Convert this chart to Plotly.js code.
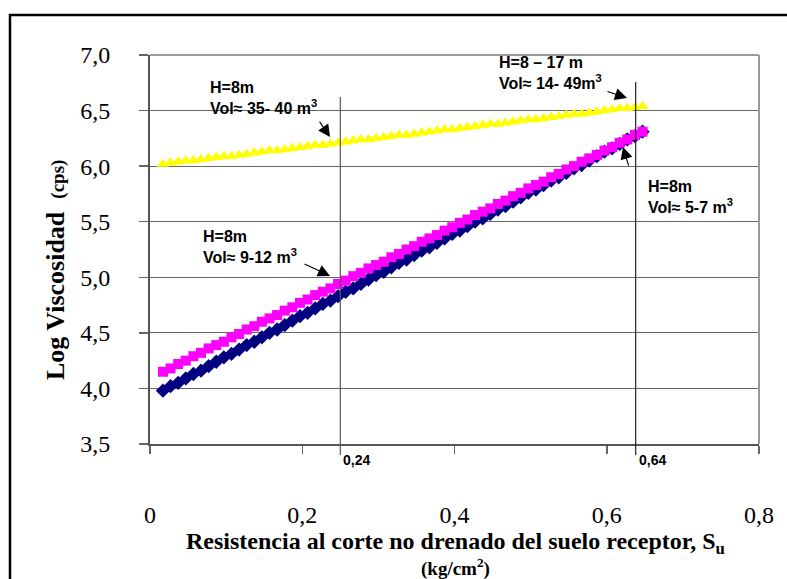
<!DOCTYPE html>
<html>
<head>
<meta charset="utf-8">
<script src="https://cdn.plot.ly/plotly-3.0.1.min.js"></script>
<style>html,body{margin:0;padding:0;background:#fff;}#chart{width:787px;height:579px;}</style>
</head>
<body>
<div id="chart"></div>
<script>
// Shear strength Su (kg/cm2)
const su = [0.017,0.027,0.037,0.047,0.057,0.067,0.077,0.087,0.097,0.107,
  0.117,0.127,0.137,0.147,0.157,0.167,0.177,0.187,0.197,0.207,
  0.217,0.227,0.237,0.247,0.257,0.267,0.277,0.287,0.297,0.307,
  0.317,0.327,0.337,0.347,0.357,0.367,0.377,0.387,0.397,0.407,
  0.417,0.427,0.437,0.447,0.457,0.467,0.477,0.487,0.497,0.507,
  0.517,0.527,0.537,0.547,0.557,0.567,0.577,0.587,0.597,0.607,
  0.617,0.627,0.637,0.647];
// Log viscosity, navy diamonds
const logViscNavy = [3.98,4.02,4.05,4.09,4.13,4.16,4.20,4.24,4.28,4.31,
  4.35,4.39,4.42,4.46,4.50,4.53,4.57,4.61,4.65,4.68,
  4.72,4.76,4.79,4.83,4.87,4.90,4.94,4.98,5.02,5.05,
  5.09,5.13,5.16,5.20,5.24,5.27,5.31,5.35,5.39,5.42,
  5.46,5.50,5.53,5.57,5.61,5.64,5.68,5.72,5.76,5.79,
  5.83,5.87,5.90,5.94,5.98,6.01,6.05,6.09,6.13,6.16,
  6.20,6.24,6.27,6.31];
// Log viscosity, magenta squares
const logViscMagenta = [4.15,4.18,4.22,4.25,4.29,4.32,4.36,4.39,4.42,4.46,
  4.49,4.53,4.56,4.60,4.63,4.66,4.70,4.73,4.77,4.80,
  4.84,4.87,4.90,4.94,4.97,5.01,5.04,5.08,5.11,5.14,
  5.18,5.21,5.25,5.28,5.32,5.35,5.38,5.42,5.45,5.49,
  5.52,5.56,5.59,5.62,5.66,5.69,5.73,5.76,5.80,5.83,
  5.86,5.90,5.93,5.97,6.00,6.04,6.07,6.10,6.14,6.17,
  6.21,6.24,6.28,6.31];
// Log viscosity, yellow triangles
const logViscYellow = [6.02,6.03,6.04,6.05,6.05,6.06,6.07,6.08,6.09,6.09,
  6.10,6.11,6.12,6.13,6.14,6.14,6.15,6.16,6.17,6.18,
  6.19,6.19,6.20,6.21,6.22,6.23,6.24,6.24,6.25,6.26,
  6.27,6.28,6.28,6.29,6.30,6.31,6.32,6.33,6.33,6.34,
  6.35,6.36,6.37,6.38,6.38,6.39,6.40,6.41,6.42,6.42,
  6.43,6.44,6.45,6.46,6.47,6.47,6.48,6.49,6.50,6.51,
  6.52,6.52,6.53,6.54];
const xTicks = [0, 0.2, 0.4, 0.6, 0.8];
const yTicks = [3.5, 4.0, 4.5, 5.0, 5.5, 6.0, 6.5, 7.0];
const refLines = [0.25, 0.638];
const refLabels = ['0,24', '0,64'];

const serif = '"Liberation Serif", "Times New Roman", serif';
const sans = '"Liberation Sans", Arial, sans-serif';

const traces = [
  {x: su, y: logViscNavy, mode: 'markers', type: 'scatter',
   marker: {symbol: 'diamond', size: 11, color: '#000080', line: {width: 0}}},
  {x: su, y: logViscMagenta, mode: 'markers', type: 'scatter',
   marker: {symbol: 'square', size: 10, color: '#FF00FF', line: {width: 0}}},
  {x: su, y: logViscYellow, mode: 'markers', type: 'scatter',
   marker: {symbol: 'triangle-up', size: 11, color: '#FFFF00', line: {width: 0}}}
];

const shapes = [
  // outer frame
  {type: 'rect', xref: 'paper', yref: 'paper', x0: -0.2299, x1: 2, y0: -2, y1: 1.1028,
   line: {color: '#000', width: 2.5}, fillcolor: 'rgba(0,0,0,0)', layer: 'above'},
  // gaps in grid behind text boxes
  {type: 'rect', xref: 'paper', yref: 'paper', x0: 0.0772, x1: 0.2906, y0: 0.835, y1: 0.885,
   line: {width: 0}, fillcolor: '#fff', layer: 'between'},
  {type: 'rect', xref: 'paper', yref: 'paper', x0: 0.0657, x1: 0.2611, y0: 0.55, y1: 0.60,
   line: {width: 0}, fillcolor: '#fff', layer: 'between'},
  {type: 'rect', xref: 'paper', yref: 'paper', x0: 0.7995, x1: 0.9606, y0: 0.835, y1: 0.885,
   line: {width: 0}, fillcolor: '#fff', layer: 'between'},
  // top & right frame of plot area
  {type: 'line', xref: 'paper', yref: 'paper', x0: 0, x1: 1, y0: 1, y1: 1,
   line: {color: '#999', width: 2}, layer: 'above'},
  {type: 'line', xref: 'paper', yref: 'paper', x0: 1, x1: 1, y0: 0, y1: 1,
   line: {color: '#999', width: 2}, layer: 'above'},
  // reference vertical lines
  {type: 'line', xref: 'x', yref: 'paper', x0: refLines[0], x1: refLines[0], y0: -0.028, y1: 0.892,
   line: {color: '#555', width: 1.2}, layer: 'above'},
  {type: 'line', xref: 'x', yref: 'paper', x0: refLines[1], x1: refLines[1], y0: -0.028, y1: 0.9306,
   line: {color: '#222', width: 1.2}, layer: 'above'}
];

const aFont = {family: sans, size: 16, color: '#000'};
const arrowBase = {text: ' ', showarrow: true, arrowhead: 2, arrowsize: 2.2, arrowwidth: 1.1,
  arrowcolor: '#000', standoff: 0, startstandoff: 0, xref: 'x', yref: 'y'};

const annotations = [
  {xref: 'paper', yref: 'paper', x: (208-150)/609, y: (444-98)/389, xanchor: 'left', yanchor: 'middle',
   align: 'left', showarrow: false, font: aFont,
   text: '<b>H=8m</b><br><b>Vol≈ 35- 40 m<sup>3</sup></b>'},
  {xref: 'paper', yref: 'paper', x: (201-150)/609, y: (444-247)/389, xanchor: 'left', yanchor: 'middle',
   align: 'left', showarrow: false, font: aFont,
   text: '<b>H=8m</b><br><b>Vol≈ 9-12 m<sup>3</sup></b>'},
  {xref: 'paper', yref: 'paper', x: (497-150)/609, y: (444-73)/389, xanchor: 'left', yanchor: 'middle',
   align: 'left', showarrow: false, font: aFont,
   text: '<b>H=8 – 17 m</b><br><b>Vol≈ 14- 49m<sup>3</sup></b>'},
  {xref: 'paper', yref: 'paper', x: (646-150)/609, y: (444-197)/389, xanchor: 'left', yanchor: 'middle',
   align: 'left', showarrow: false, font: aFont,
   text: '<b>H=8m</b><br><b>Vol≈ 5-7 m<sup>3</sup></b>'},
  Object.assign({}, arrowBase, {x: 0.2365, y: 6.262, ax: -15, ay: -22}),
  Object.assign({}, arrowBase, {x: 0.2365, y: 5.012, ax: -30, ay: -14}),
  Object.assign({}, arrowBase, {x: 0.6266, y: 6.613, ax: -24, ay: -8}),
  Object.assign({}, arrowBase, {x: 0.6213, y: 6.172, ax: 10, ay: 33}),
  // reference line labels
  {xref: 'x', yref: 'paper', x: refLines[0], y: (444-460)/389, xanchor: 'left', yanchor: 'middle', xshift: 1,
   showarrow: false, font: {family: sans, size: 14, color: '#000'}, text: '<b>' + refLabels[0] + '</b>'},
  {xref: 'x', yref: 'paper', x: refLines[1], y: (444-460)/389, xanchor: 'left', yanchor: 'middle', xshift: 1,
   showarrow: false, font: {family: sans, size: 14, color: '#000'}, text: '<b>' + refLabels[1] + '</b>'},
  // axis titles
  {xref: 'paper', yref: 'paper', x: (455-150)/609, y: (444-543)/389, xanchor: 'center', yanchor: 'middle',
   showarrow: false, font: {family: serif, size: 24, color: '#000'},
   text: '<b>Resistencia al corte no drenado del suelo receptor, S<sub>u</sub></b>'},
  {xref: 'paper', yref: 'paper', x: (455-150)/609, y: (444-567)/389, xanchor: 'center', yanchor: 'middle',
   showarrow: false, font: {family: serif, size: 19, color: '#000'},
   text: '<b>(kg/cm<sup>2</sup>)</b>'},
  {xref: 'paper', yref: 'paper', x: (55-150)/609, y: (444-270)/389, xanchor: 'center', yanchor: 'middle',
   textangle: -90, showarrow: false, font: {family: serif, size: 26, color: '#000'},
   text: '<b>Log Viscosidad  <span style="font-size:19px">(cps)</span></b>'}
];

const layout = {
  width: 787, height: 579,
  margin: {l: 150, r: 28, t: 55, b: 135, pad: 0},
  paper_bgcolor: '#fff', plot_bgcolor: '#fff',
  showlegend: false,
  separators: ',.',
  font: {family: serif, size: 24, color: '#000'},
  xaxis: {range: [0, 0.8], tickvals: xTicks, ticktext: xTicks.map(v => String(v).replace('.', ',')),
    showgrid: false, zeroline: false, showline: true, linecolor: '#555', linewidth: 2,
    ticks: 'outside', ticklen: 8, tickwidth: 1.5, tickcolor: '#666', ticklabelstandoff: 40,
    tickfont: {family: serif, size: 24, color: '#000'}, fixedrange: true},
  yaxis: {range: [3.5, 7.0], tickvals: yTicks, ticktext: yTicks.map(v => v.toFixed(1).replace('.', ',')),
    showgrid: true, gridcolor: '#666', gridwidth: 1, zeroline: false, showline: true,
    linecolor: '#555', linewidth: 2, ticks: 'outside', ticklen: 9, tickwidth: 1.5, tickcolor: '#666',
    ticklabelstandoff: 24, tickfont: {family: serif, size: 24, color: '#000'}, fixedrange: true},
  shapes: shapes,
  annotations: annotations
};

Plotly.newPlot('chart', traces, layout, {displayModeBar: false, staticPlot: true});
</script>
</body>
</html>
